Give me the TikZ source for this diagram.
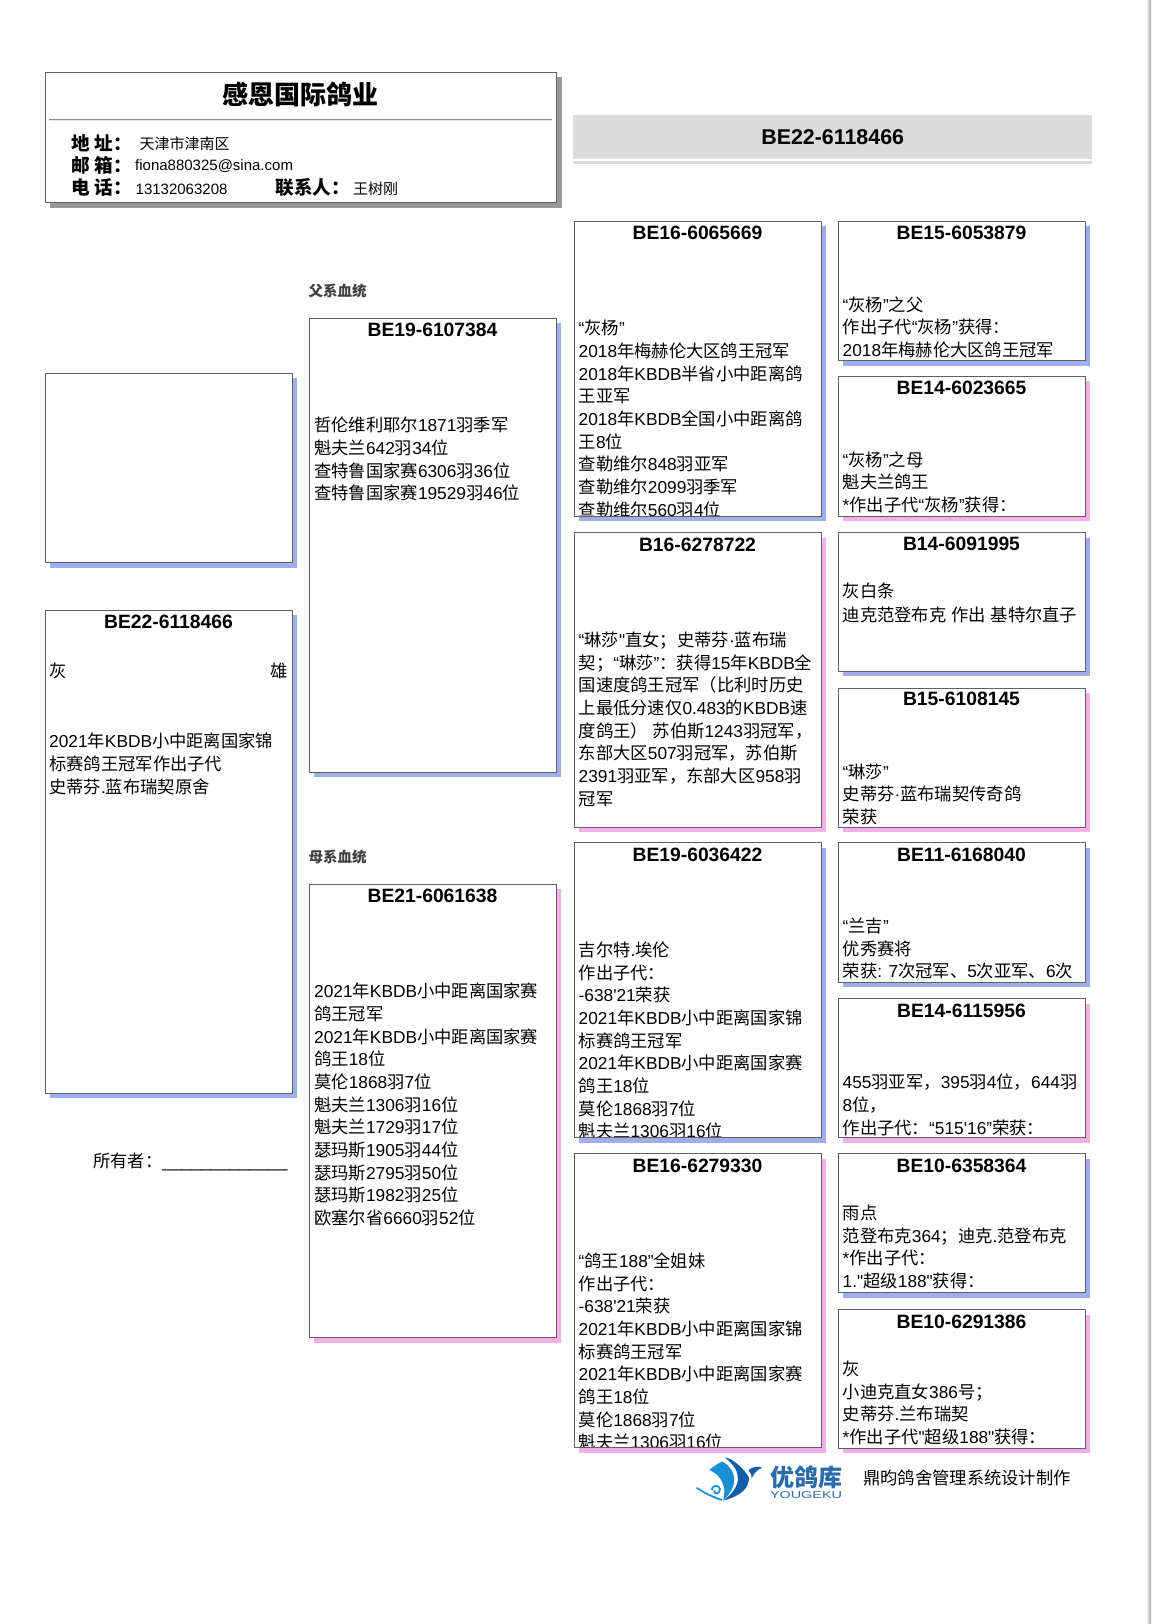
\documentclass[tikz,border=0pt]{standalone}
\usepackage{xcolor}
\usepackage{fontspec}
\usepackage{tikz}
\usetikzlibrary{positioning,shadows}
\defaultfontfeatures[\rmfamily]{}
\setmainfont{Liberation Sans}
\newfontfamily\cjkfont{Noto Sans CJK SC}
% switch between the two fonts at script changes
\XeTeXinterchartokenstate=1
\newXeTeXintercharclass\cjkclass
\newcount\cjkchar
\cjkchar="3000
\loop\XeTeXcharclass\cjkchar=\cjkclass\advance\cjkchar 1 \ifnum\cjkchar<"A000 \repeat
\cjkchar="FF00
\loop\XeTeXcharclass\cjkchar=\cjkclass\advance\cjkchar 1 \ifnum\cjkchar<"FFF0 \repeat
\XeTeXinterchartoks 0 \cjkclass={\cjkfont}
\XeTeXinterchartoks 4095 \cjkclass={\cjkfont}
\XeTeXinterchartoks \cjkclass 0={\rmfamily}
\XeTeXinterchartoks \cjkclass 4095={\rmfamily}
\definecolor{cockblue}{HTML}{9FAEEF}
\definecolor{henpink}{HTML}{F3AEE8}
\definecolor{boxline}{HTML}{606060}
\definecolor{logolight}{HTML}{1B8FD8}
\definecolor{logodark}{HTML}{0F5FA8}
\definecolor{logotext}{HTML}{2A6CA8}

\begin{document}
\begin{tikzpicture}[x=1pt,y=-1pt,
    pedbox/.style={draw=boxline, line width=1pt, fill=white, anchor=north west, inner sep=0pt, outer sep=0pt},
    cockbox/.style={pedbox, drop shadow={shadow xshift=5pt, shadow yshift=-5pt, fill=cockblue, opacity=1}},
    henbox/.style={pedbox, drop shadow={shadow xshift=5pt, shadow yshift=-5pt, fill=henpink, opacity=1}},
    wideped/.style={minimum width=247pt},
    pedtitle/.style={inner sep=0pt, font={\fontsize{19.3}{22}\selectfont\bfseries}},
    pedbody/.style={inner sep=0pt, anchor=north west, yshift=-2.3pt, align=left, font={\fontsize{17.3}{22.68}\selectfont}, execute at begin node=\strut},
    sidelabel/.style={inner sep=0pt, anchor=west, text=black!75, font={\fontsize{14.5}{16}\selectfont\bfseries}},
    infokey/.style={inner sep=0pt, anchor=west, font={\fontsize{18.6}{20}\selectfont\bfseries}},
    infoval/.style={inner sep=0pt, anchor=west, font={\fontsize{15}{18}\selectfont}}]
    \useasboundingbox (0,0) rectangle (1151,1624);
    \shade[left color=white, right color=black!35] (1146,0) rectangle (1151,1624);

    % Loft card
    \node[pedbox, minimum width=511.5pt, minimum height=130.5pt, drop shadow={shadow xshift=5pt, shadow yshift=-5pt, fill=black!40, opacity=1}] (loft) at (45,72.5) {};
    \node[inner sep=0pt, font={\fontsize{26}{30}\selectfont\bfseries}] (loftname) at (300.5,94) {感恩国际鸽业};
    \coordinate (ruleleft) at (49,119.5);
    \coordinate (ruleright) at (552,119.5);
    \draw[black!45, line width=.8pt] (ruleleft) -- (ruleright);
    \draw[black!10, line width=1pt] ([yshift=-1.2pt]ruleleft) -- ([yshift=-1.2pt]ruleright);
    \node[infokey] (addrkey) at (71,143) {地 址：};
    \node[infoval] (addrval) at (139.5,144) {天津市津南区};
    \node[infokey] (mailkey) at (71,165) {邮 箱：};
    \node[infoval] (mailval) at (135,166) {fiona880325@sina.com};
    \node[infokey] (telkey) at (71,187.5) {电 话：};
    \node[infoval] (telval) at (135.5,189) {13132063208};
    \node[infokey] (contactkey) at (275.5,187.5) {联系人：};
    \node[infoval] (contactval) at (353,189) {王树刚};

    % Ring banner
    \node[fill=black!14, anchor=north west, minimum width=519pt, minimum height=44pt, inner sep=0pt, font={\fontsize{21.4}{24}\selectfont\bfseries}] (banner) at (573,115) {BE22-6118466};
    \fill[black!14] (banner.south west)++(0,1.5) rectangle ([yshift=-4.5pt]banner.south east);

    % Bird
    \node[cockbox, wideped, minimum height=189.5pt] (photo) at (45,373) {};
    \node[cockbox, wideped, minimum height=483pt] (bird) at (45,610) {};
    \node[pedtitle, below=5pt of bird.north] (birdring) {BE22-6118466};
    \node[pedbody, below right=49pt and 4pt of bird.north west] (birdcolor) {灰};
    \node[pedbody, below left=49pt and 4.5pt of bird.north east, anchor=north east] (birdsex) {雄};
    \node[pedbody, below right=120.5pt and 4pt of bird.north west] (birdtext) {2021年KBDB小中距离国家锦\\标赛鸽王冠军作出子代\\史蒂芬.蓝布瑞契原舍};
    \node[pedbody, anchor=west] (owner) at (93,1161) {所有者：\_\_\_\_\_\_\_\_\_\_\_\_\_};

    % Sire
    \node[sidelabel] (sirelabel) at (308.5,291) {父系血统};
    \node[cockbox, wideped, minimum height=454pt] (sire) at (309,318) {};
    \node[pedtitle, below=5pt of sire.north] (sirering) {BE19-6107384};
    \node[pedbody, below right=96.7pt and 5pt of sire.north west] (siretext) {哲伦维利耶尔1871羽季军\\魁夫兰642羽34位\\查特鲁国家赛6306羽36位\\查特鲁国家赛19529羽46位};

    % Dam
    \node[sidelabel] (damlabel) at (308.5,857) {母系血统};
    \node[henbox, wideped, minimum height=453.5pt] (dam) at (309,884) {};
    \node[pedtitle, below=5pt of dam.north] (damring) {BE21-6061638};
    \node[pedbody, below right=96.7pt and 5pt of dam.north west] (damtext) {2021年KBDB小中距离国家赛\\鸽王冠军\\2021年KBDB小中距离国家赛\\鸽王18位\\莫伦1868羽7位\\魁夫兰1306羽16位\\魁夫兰1729羽17位\\瑟玛斯1905羽44位\\瑟玛斯2795羽50位\\瑟玛斯1982羽25位\\欧塞尔省6660羽52位};

    % Grandparents
    \node[cockbox, wideped, minimum height=295pt] (gs1) at (574,221) {};
    \node[pedtitle, below=5pt of gs1.north] (gs1ring) {BE16-6065669};
    \begin{scope}
        \clip ([shift={(.6pt,.6pt)}]gs1.south west) rectangle ([shift={(-.6pt,-.6pt)}]gs1.north east);
        \node[pedbody, below right=96.7pt and 4.5pt of gs1.north west] (gs1text) {“灰杨”\\2018年梅赫伦大区鸽王冠军\\2018年KBDB半省小中距离鸽\\王亚军\\2018年KBDB全国小中距离鸽\\王8位\\查勒维尔848羽亚军\\查勒维尔2099羽季军\\查勒维尔560羽4位};
    \end{scope}
    \node[henbox, wideped, minimum height=294.5pt] (gd1) at (574,532.5) {};
    \node[pedtitle, below=5pt of gd1.north] (gd1ring) {B16-6278722};
    \node[pedbody, below right=96.7pt and 4.5pt of gd1.north west] (gd1text) {“琳莎"直女；史蒂芬·蓝布瑞\\契；“琳莎”：获得15年KBDB全\\国速度鸽王冠军（比利时历史\\上最低分速仅0.483的KBDB速\\度鸽王） 苏伯斯1243羽冠军，\\东部大区507羽冠军，苏伯斯\\2391羽亚军，东部大区958羽\\冠军};
    \node[cockbox, wideped, minimum height=295pt] (gs2) at (574,842.5) {};
    \node[pedtitle, below=5pt of gs2.north] (gs2ring) {BE19-6036422};
    \begin{scope}
        \clip ([shift={(.6pt,.6pt)}]gs2.south west) rectangle ([shift={(-.6pt,-.6pt)}]gs2.north east);
        \node[pedbody, below right=96.7pt and 4.5pt of gs2.north west] (gs2text) {吉尔特.埃伦\\作出子代：\\-638'21荣获\\2021年KBDB小中距离国家锦\\标赛鸽王冠军\\2021年KBDB小中距离国家赛\\鸽王18位\\莫伦1868羽7位\\魁夫兰1306羽16位};
    \end{scope}
    \node[henbox, wideped, minimum height=294pt] (gd2) at (574,1153.5) {};
    \node[pedtitle, below=5pt of gd2.north] (gd2ring) {BE16-6279330};
    \begin{scope}
        \clip ([shift={(.6pt,.6pt)}]gd2.south west) rectangle ([shift={(-.6pt,-.6pt)}]gd2.north east);
        \node[pedbody, below right=96.7pt and 4.5pt of gd2.north west] (gd2text) {“鸽王188”全姐妹\\作出子代：\\-638'21荣获\\2021年KBDB小中距离国家锦\\标赛鸽王冠军\\2021年KBDB小中距离国家赛\\鸽王18位\\莫伦1868羽7位\\魁夫兰1306羽16位};
    \end{scope}

    % Great-grandparents
    \node[cockbox, wideped, minimum height=139.5pt] (gg1) at (838,221) {};
    \node[pedtitle, below=5pt of gg1.north] (gg1ring) {BE15-6053879};
    \node[pedbody, below right=73pt and 4.5pt of gg1.north west] (gg1text) {“灰杨”之父\\作出子代“灰杨”获得：\\2018年梅赫伦大区鸽王冠军};
    \node[henbox, wideped, minimum height=140pt] (gg2) at (838,376) {};
    \node[pedtitle, below=5pt of gg2.north] (gg2ring) {BE14-6023665};
    \node[pedbody, below right=73pt and 4.5pt of gg2.north west] (gg2text) {“灰杨”之母\\魁夫兰鸽王\\*作出子代“灰杨”获得：};
    \node[cockbox, wideped, minimum height=138.5pt] (gg3) at (838,532.5) {};
    \node[pedtitle, below=4pt of gg3.north] (gg3ring) {B14-6091995};
    \node[pedbody, below right=48pt and 4.5pt of gg3.north west] (gg3text) {灰白条\\[1.3pt]迪克范登布克 作出 基特尔直子};
    \node[henbox, wideped, minimum height=139pt] (gg4) at (838,688) {};
    \node[pedtitle, below=4pt of gg4.north] (gg4ring) {B15-6108145};
    \node[pedbody, below right=73pt and 4.5pt of gg4.north west] (gg4text) {“琳莎”\\史蒂芬·蓝布瑞契传奇鸽\\荣获};
    \node[cockbox, wideped, minimum height=139.5pt] (gg5) at (838,842.5) {};
    \node[pedtitle, below=5pt of gg5.north] (gg5ring) {BE11-6168040};
    \node[pedbody, below right=73pt and 4.5pt of gg5.north west] (gg5text) {“兰吉”\\优秀赛将\\荣获: 7次冠军、5次亚军、6次};
    \node[henbox, wideped, minimum height=139pt] (gg6) at (838,998.5) {};
    \node[pedtitle, below=5pt of gg6.north] (gg6ring) {BE14-6115956};
    \node[pedbody, below right=73pt and 4.5pt of gg6.north west] (gg6text) {455羽亚军，395羽4位，644羽\\8位，\\作出子代：“515'16”荣获：};
    \node[cockbox, wideped, minimum height=139pt] (gg7) at (838,1153.5) {};
    \node[pedtitle, below=5pt of gg7.north] (gg7ring) {BE10-6358364};
    \node[pedbody, below right=49pt and 4.5pt of gg7.north west] (gg7text) {雨点\\范登布克364；迪克.范登布克\\*作出子代：\\1."超级188"获得：};
    \node[henbox, wideped, minimum height=138.5pt] (gg8) at (838,1309.5) {};
    \node[pedtitle, below=5pt of gg8.north] (gg8ring) {BE10-6291386};
    \node[pedbody, below right=49pt and 4.5pt of gg8.north west] (gg8text) {灰\\小迪克直女386号；\\史蒂芬.兰布瑞契\\*作出子代"超级188"获得：};

    % Footer
    \begin{scope}[shift={(680,1445)},x=.3333pt,y=-.3333pt]
        \fill[logolight] (88,75) .. controls (105,60) and (120,52) .. (128,50) .. controls (170,75) and (178,120) .. (130,167) .. controls (140,125) and (125,90) .. (88,75) -- cycle;
        \fill[logodark] (135,38) .. controls (155,38) and (192,70) .. (207,98) .. controls (207,128) and (185,152) .. (130,167) .. controls (185,125) and (190,80) .. (135,38) -- cycle;
        \fill[logodark] (205,75) .. controls (220,65) and (235,62) .. (247,68) .. controls (235,72) and (225,80) .. (215,100) .. controls (215,90) .. (205,75) -- cycle;
        \draw[logolight, line width=1.8pt] (50,128) .. controls (70,142) and (85,150) .. (125,165);
        \draw[logolight, line width=1.8pt] (95,135) .. controls (95,120) and (118,118) .. (120,132) .. controls (120,148) and (102,150) .. (102,136);
    \end{scope}
    \node[inner sep=0pt, text=logotext, font={\fontsize{24}{26}\selectfont\bfseries}] (logoname) at (806,1477) {优鸽库};
    \node[inner sep=0pt, text=logotext] (logolatin) at (806,1495) {\resizebox{72pt}{7pt}{YOUGEKU}};
    \node[inner sep=0pt, anchor=west, font={\fontsize{17.3}{20}\selectfont}] (maker) at (863,1478) {鼎昀鸽舍管理系统设计制作};
\end{tikzpicture}
\end{document}
